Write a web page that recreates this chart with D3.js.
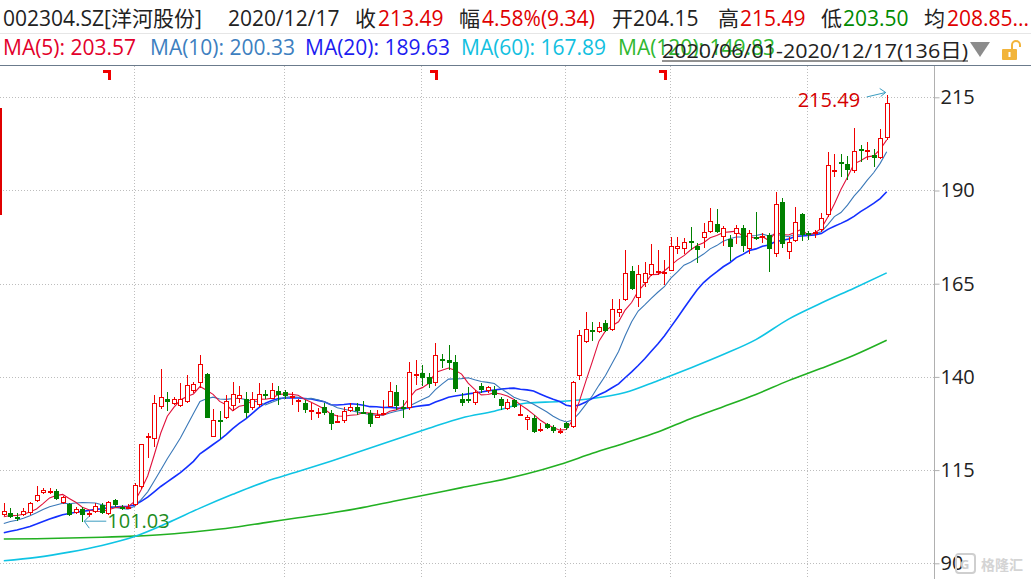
<!DOCTYPE html>
<html><head><meta charset="utf-8">
<script src="https://cdn.jsdelivr.net/npm/d3@7/dist/d3.min.js"></script>
<style>
body{margin:0;background:#fff;overflow:hidden}
svg{display:block}
text{font-family:"Open Sans","Noto Sans CJK SC",sans-serif}
</style>
</head><body>
<svg id="chart" width="1031" height="579"></svg>
<script>
// ---------------- data ----------------
const stockName = "002304.SZ[洋河股份]";
const lastDate = "2020/12/17";
const rangeLabel = "2020/06/01-2020/12/17(136日)";
const monthStarts = [20, 43, 64, 86, 102, 123];      // first trading day of Jul..Dec
const eventMarks = [16, 66, 101];
const yTicks = [90, 115, 140, 165, 190, 215];

const openP = [103.05,103.5,102.3,102.9,103.4,106.8,108.8,109.4,109.4,106.1,105.8,103.6,104.6,103.3,103.8,105.6,103.2,107.0,105.0,104.8,
105.6,110.5,123.8,123.3,131.8,134.0,132.7,132.2,133.2,136.1,138.3,140.8,124.0,128.4,129.1,132.2,134.1,134.0,131.6,132.5,135.4,134.2,136.2,
136.0,134.6,133.8,133.1,131.1,130.4,132.0,130.2,128.1,128.2,130.9,132.0,130.7,130.2,129.1,130.1,132.0,135.9,132.0,131.6,140.7,
141.1,140.0,138.3,144.7,144.5,143.9,134.2,134.1,133.1,137.6,136.3,136.5,134.1,131.3,133.9,129.9,128.4,128.9,125.4,127.4,126.5,125.5,
127.7,126.5,140.2,149.3,152.6,152.1,154.4,152.6,157.1,160.5,168.4,161.1,165.1,167.2,168.0,167.9,
168.5,174.2,174.2,176.5,175.1,177.2,179.0,181.0,177.6,177.0,178.3,179.9,174.2,177.6,177.2,178.1,173.1,186.8,173.6,176.5,183.7,
178.7,178.2,179.4,183.4,195.4,197.7,197.1,195.1,201.0,200.2,199.4,198.6,204.15];
const highP = [106.1,104.7,103.4,104.7,106.5,110.7,110.1,110.1,109.9,108.1,106.1,105.0,105.0,103.9,106.1,106.1,106.7,107.2,105.6,105.8,
111.5,122.1,124.9,135.1,142.0,135.9,134.7,138.3,140.5,138.7,145.9,141.0,131.4,130.9,135.1,138.5,137.6,136.0,136.0,138.3,136.5,138.3,137.6,
136.5,136.0,134.0,133.8,132.9,131.6,133.1,131.0,129.8,132.0,132.9,133.1,133.6,131.1,131.1,133.8,138.7,137.8,133.8,144.1,144.5,
143.2,141.1,149.1,146.1,148.6,145.9,135.6,137.4,136.5,138.3,137.6,137.6,134.7,134.2,134.2,132.5,129.8,129.8,127.5,127.7,127.1,126.2,
128.0,139.0,152.6,157.3,154.8,154.8,155.3,160.9,160.8,174.0,169.7,170.0,170.9,175.6,174.0,171.4,
177.6,177.6,177.2,180.3,175.8,181.2,185.2,185.0,180.5,178.1,180.8,180.7,179.4,184.1,178.5,178.5,189.7,187.9,177.6,185.5,183.9,
179.2,179.4,183.9,200.4,199.8,199.8,199.3,206.7,202.2,203.1,201.0,206.4,215.49];
const lowP = [102.7,102.1,101.4,102.7,103.0,106.5,108.6,108.6,107.0,105.9,102.7,103.3,101.03,102.5,103.6,103.1,103.0,105.2,104.3,104.5,
105.3,110.0,118.2,121.1,131.5,130.9,132.5,132.0,133.0,135.6,136.9,128.9,123.8,123.3,128.6,130.9,132.9,128.9,131.1,132.0,134.0,134.0,132.5,
134.2,132.5,130.7,130.2,128.4,128.9,129.8,125.7,127.7,127.5,130.7,129.8,130.2,126.6,128.9,129.8,131.8,131.1,129.1,131.1,137.8,
137.6,137.0,137.5,142.3,141.9,136.0,132.2,132.9,132.5,135.6,135.8,134.3,131.1,131.1,131.6,129.5,125.8,124.9,125.3,125.9,124.9,124.7,
125.8,126.2,139.2,149.0,149.7,151.7,152.1,152.4,156.2,160.3,163.3,158.7,164.2,167.0,167.3,164.7,
168.3,173.1,173.1,174.0,170.5,174.5,178.5,178.5,175.0,171.2,175.7,173.6,173.1,176.7,175.8,168.2,172.1,174.5,171.5,176.3,176.5,
176.7,177.2,179.0,182.8,193.7,193.7,192.8,194.6,197.7,198.2,196.2,198.4,203.5];
const closeP = [104.1,102.5,101.9,104.1,106.1,108.3,109.7,109.5,107.2,107.7,102.9,104.5,103.0,103.6,105.4,103.4,106.5,105.7,104.7,105.2,
111.0,122.1,124.1,132.9,134.7,133.4,134.0,134.0,137.7,138.0,143.4,129.1,128.4,128.2,133.5,135.4,135.1,130.2,134.2,135.4,135.2,136.5,135.1,
135.0,134.8,133.9,131.1,131.2,130.5,130.2,127.4,128.2,130.9,131.8,130.9,130.4,127.4,129.8,130.2,136.2,132.2,131.5,141.4,140.9,
139.6,138.1,146.0,144.4,143.8,136.7,132.9,133.8,136.0,136.5,137.2,135.1,132.2,133.4,131.8,130.0,129.2,125.3,125.9,126.2,125.6,125.6,
126.2,138.5,151.2,152.8,152.1,153.3,152.3,158.1,158.1,167.8,163.5,167.6,167.8,170.3,168.3,168.1,
175.1,175.1,176.1,175.8,174.0,178.9,181.8,179.0,179.9,174.9,179.9,175.1,178.7,176.9,177.8,174.2,186.4,175.7,176.3,181.5,178.1,
178.1,179.0,182.5,196.8,195.6,197.3,195.5,200.6,200.8,200.9,198.6,204.15,213.49];
// closes of the 19 sessions before 2020/06/01 (estimated from where MA5/10/20 start)
const preCloses = [94.5,95.0,95.3,95.8,96.0,95.6,96.2,95.9,96.5,96.2,97.5,98.3,99.0,99.4,100.3,101.0,101.8,102.4,103.2];
// MA60 / MA120 every 5 sessions (index 0,5,...,135)
const ma60Read  = [90.7,91.6,93.0,94.8,97.2,100.8,104.8,108.5,111.9,114.6,117.4,120.3,123.3,126.2,129.0,130.8,133.0,133.4,134.2,135.8,139.0,142.4,146.0,150.0,155.5,159.8,163.8,167.9];
const ma120Read = [96.5,96.6,96.8,97.0,97.3,97.8,98.6,99.6,100.9,102.2,103.5,105.0,106.8,108.5,110.3,112.0,114.0,116.5,119.5,122.3,125.2,128.8,132.0,135.3,139.0,142.3,145.8,149.83];

const headerTexts = [
  [stockName,"#222"],[lastDate,"#222"],["收","#222"],["213.49","#e00000"],["幅","#222"],["4.58%(9.34)","#e00000"],
  ["开204.15","#222"],["高","#222"],["215.49","#e00000"],["低","#222"],["203.50","#008a00"],["均","#222"],["208.85...","#e00000"]];
const maLegend = [["MA(5): 203.57","#e3002b"],["MA(10): 200.33","#3d7fc0"],["MA(20): 189.63","#1c1cf0"],["MA(60): 167.89","#12c0e0"],["MA(120): 149.83","#30b830"]];

// ---------------- layout ----------------
const W = 1031, H = 579;
const svg = d3.select("#chart");
const x = d3.scaleLinear().domain([0, 135]).range([3.8, 886.7]);
const y = d3.scaleLinear().domain([90, 215]).range([563.3, 97.3]);
const axisX = 934.5, plotTop = 66;

// header
const hx = [3,228,355,378,459,482,612,718,740,821,843,924,947];
headerTexts.forEach((d,i)=>svg.append("text").attr("x",hx[i]).attr("y",26).attr("font-size",21).attr("fill",d[1]).text(d[0]));
svg.append("line").attr("x1",0).attr("x2",W).attr("y1",33.5).attr("y2",33.5).attr("stroke","#e6e6e6");
const lx = [3,150,305,461,618];
maLegend.forEach((d,i)=>svg.append("text").attr("x",lx[i]).attr("y",55).attr("font-size",21).attr("fill",d[1]).text(d[0]));
svg.append("text").attr("x",662).attr("y",58).attr("font-size",20.6).attr("fill","#222").text(rangeLabel)
   .attr("textLength",306).attr("lengthAdjust","spacingAndGlyphs");
svg.append("line").attr("x1",662).attr("x2",968).attr("y1",61).attr("y2",61).attr("stroke","#222");
svg.append("path").attr("d","M970,42 L990,42 L980,57 Z").attr("fill","#8c8c8c");
// lock icon
svg.append("rect").attr("x",1002).attr("y",49).attr("width",15).attr("height",11).attr("rx",1).attr("fill","#f2b43a");
svg.append("path").attr("d","M1012,49 V45 A4,4 0 0 1 1020,45 V47").attr("fill","none").attr("stroke","#f2b43a").attr("stroke-width",2);
svg.append("rect").attr("x",1008.5).attr("y",52).attr("width",2).attr("height",5).attr("fill","#fff");
svg.append("line").attr("x1",0).attr("x2",W).attr("y1",65.5).attr("y2",65.5).attr("stroke","#6b7b8c");

// grid
const grid = svg.append("g").attr("stroke","#bdbdbd").attr("stroke-dasharray","1,2");
yTicks.forEach(v=>grid.append("line").attr("x1",0).attr("x2",axisX).attr("y1",Math.round(y(v))+0.5).attr("y2",Math.round(y(v))+0.5));
monthStarts.forEach(i=>grid.append("line").attr("x1",Math.round(x(i))-0.5).attr("x2",Math.round(x(i))-0.5).attr("y1",plotTop).attr("y2",H));

// axis
const axis = d3.axisRight(y).tickValues(yTicks).tickSize(5).tickPadding(1).tickFormat(d3.format("d"));
const ag = svg.append("g").attr("transform",`translate(${axisX},0)`).call(axis);
ag.select(".domain").attr("stroke","#b0b0b0").attr("d",`M0,${plotTop}V${H}`);
ag.selectAll(".tick line").attr("stroke","#b0b0b0");
ag.selectAll(".tick text").attr("font-size",20).attr("fill","#222").attr("font-family","Open Sans");

// moving averages
const allC = preCloses.concat(closeP);
const off = preCloses.length;
function ma(n){ return closeP.map((c,i)=>{ const s=i+off-n+1; return d3.mean(allC.slice(Math.max(0,s), i+off+1)); }); }
const lineGen = d3.line().x(d=>x(d[0])).y(d=>y(d[1]));
const curveGen = d3.line().x(d=>x(d[0])).y(d=>y(d[1])).curve(d3.curveMonotoneX);
const lg = svg.append("g").attr("fill","none");
lg.append("path").attr("d",curveGen(ma120Read.map((v,k)=>[k*5,v]))).attr("stroke","#22b022").attr("stroke-width",1.6);
lg.append("path").attr("d",curveGen(ma60Read.map((v,k)=>[k*5,v]))).attr("stroke","#0fc4e4").attr("stroke-width",1.6);
lg.append("path").attr("d",lineGen(ma(20).map((v,i)=>[i,v]))).attr("stroke","#1430ff").attr("stroke-width",1.6);
lg.append("path").attr("d",lineGen(ma(10).map((v,i)=>[i,v]))).attr("stroke","#3a78b8").attr("stroke-width",1.1);

// candles
const cg = svg.append("g").attr("shape-rendering","crispEdges");
closeP.forEach((c,i)=>{
  const o=openP[i], h=highP[i], l=lowP[i];
  const cx = Math.round(x(i));
  const up = c >= o;
  const col = up ? "#f00000" : "#008000";
  const top = Math.round(y(Math.max(o,c))), bot = Math.round(y(Math.min(o,c)));
  if (up) {
    cg.append("line").attr("x1",cx+0.5).attr("x2",cx+0.5).attr("y1",Math.round(y(h))).attr("y2",top).attr("stroke",col);
    cg.append("line").attr("x1",cx+0.5).attr("x2",cx+0.5).attr("y1",bot).attr("y2",Math.round(y(l))).attr("stroke",col);
    if (bot-top >= 2) cg.append("rect").attr("x",cx-1.5).attr("y",top+0.5).attr("width",4).attr("height",bot-top-1).attr("fill","#fff").attr("stroke",col);
    else cg.append("rect").attr("x",cx-2).attr("y",top).attr("width",5).attr("height",Math.max(1.5,bot-top)).attr("fill",col);
  } else {
    cg.append("line").attr("x1",cx+0.5).attr("x2",cx+0.5).attr("y1",Math.round(y(h))).attr("y2",Math.round(y(l))).attr("stroke",col);
    cg.append("rect").attr("x",cx-2).attr("y",top).attr("width",5).attr("height",Math.max(1.5,bot-top)).attr("fill",col);
  }
});
lg.append("path").attr("d",lineGen(ma(5).map((v,i)=>[i,v]))).attr("stroke","#e0123c").attr("stroke-width",1.1);

// event marks
eventMarks.forEach(i=>{ const cx=Math.round(x(i));
  svg.append("path").attr("d",`M${cx-5},70 H${cx+3} V80 H${cx} V73 H${cx-5} Z`).attr("fill","#f00000"); });

// left red marker bar
svg.append("rect").attr("x",0).attr("y",108).attr("width",2).attr("height",107).attr("fill","#e00000");

// max / min annotations
const iMax = d3.maxIndex(highP), iMin = d3.minIndex(lowP);
svg.append("text").attr("x",x(iMax)-89).attr("y",y(highP[iMax])+12).attr("font-size",20).attr("fill","#d40000").text(highP[iMax].toFixed(2));
const ax1 = x(iMax)-20, ay1 = y(highP[iMax])+1.5, ax2 = x(iMax)-1, ay2 = y(highP[iMax])-3;
svg.append("path").attr("d",`M${ax1},${ay1} L${ax2},${ay2} M${ax2-6},${ay2-4} L${ax2},${ay2} L${ax2-5},${ay2+4}`)
   .attr("fill","none").attr("stroke","#3a9cc0").attr("stroke-width",1);
svg.append("text").attr("x",x(iMin)+25).attr("y",y(lowP[iMin])+6).attr("font-size",20).attr("fill","#1e8c1e").text(lowP[iMin].toFixed(2));
const bx = x(iMin)+2, by = y(lowP[iMin])-1;
svg.append("path").attr("d",`M${bx+22},${by} H${bx} M${bx+5},${by-5} L${bx},${by} L${bx+5},${by+7}`)
   .attr("fill","none").attr("stroke","#3a9cc0").attr("stroke-width",1);

// watermark
svg.append("rect").attr("x",956).attr("y",554).attr("width",19).attr("height",19).attr("rx",3).attr("fill","none").attr("stroke","#cfcfcf").attr("stroke-width",2);
svg.append("text").attr("x",960).attr("y",569).attr("font-size",13).attr("font-weight","bold").attr("fill","#cfcfcf").text("G");
svg.append("text").attr("x",981).attr("y",570).attr("font-size",14).attr("font-weight","bold").attr("fill","#d4d4d4").text("格隆汇");
</script>
</body></html>
